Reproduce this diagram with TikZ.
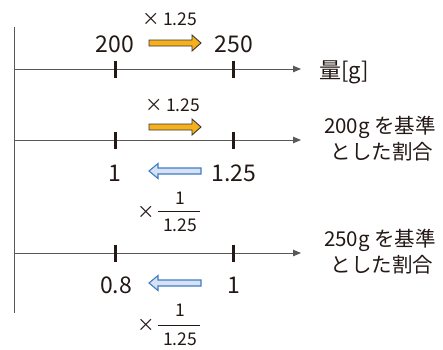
\documentclass[tikz,border=0pt]{standalone}
\usepackage{fontspec}
\setmainfont{Noto Sans CJK JP}
\usetikzlibrary{arrows.meta}
\definecolor{txt}{HTML}{231815}
\definecolor{axisc}{HTML}{595757}
\definecolor{orangefill}{HTML}{F5B01E}
\definecolor{orangeline}{HTML}{3A3534}
\definecolor{bluefill}{HTML}{D6E2F3}
\definecolor{blueline}{HTML}{3D7DC3}
\tikzset{
  axisline/.style={draw=axisc, line width=0.9pt, -{Triangle[length=8pt,width=6.5pt]}},
  tickmark/.style={draw=txt, line width=3pt},
  big/.style={text=txt, font=\fontsize{23}{25}\selectfont, inner sep=0pt},
  lab/.style={text=txt, font=\fontsize{20.5}{23}\selectfont, inner sep=0pt},
  small/.style={text=txt, font=\fontsize{17.5}{19}\selectfont, inner sep=0pt},
  fracline/.style={draw=txt, line width=0.8pt},
  orangearrow/.style={fill=orangefill, draw=orangeline, line width=0.9pt, line join=miter},
  bluearrow/.style={fill=bluefill, draw=blueline, line width=1.1pt, line join=miter},
}
\begin{document}
\begin{tikzpicture}[x=1pt,y=-1pt]
\useasboundingbox (0,0) rectangle (443,349);
% vertical line
\draw[draw=axisc, line width=1pt] (14,26.5) -- (14,313);
% axes
\coordinate (a1s) at (14,69); \coordinate (a1e) at (301,69);
\coordinate (a2s) at (14,140); \coordinate (a2e) at (301,140);
\coordinate (a3s) at (14,253); \coordinate (a3e) at (301,253);
\draw[axisline] (a1s) -- (a1e);
\draw[axisline] (a2s) -- (a2e);
\draw[axisline] (a3s) -- (a3e);
% ticks
\foreach \y in {69,140,253}{
  \draw[tickmark] (115,\y-8.5) -- (115,\y+8.5);
  \draw[tickmark] (233.5,\y-8.5) -- (233.5,\y+8.5);
}
% row 1
\node[small] (m1) at (170,19) {×\,1.25};
\node[big] (n200) at (115,44) {200};
\node[big] (n250) at (234,44) {250};
\draw[orangearrow] (149,40) -- (192,40) -- (192,35) -- (201,43) -- (192,51) -- (192,46) -- (149,46) -- cycle;
\node[text=txt, inner sep=0pt, font=\fontsize{22}{24}\selectfont, anchor=west] (unit) at (319,72) {量[g]};
% row 2
\node[small] (m2) at (173,105) {×\,1.25};
\draw[orangearrow] (149,124) -- (192,124) -- (192,119) -- (201,127) -- (192,135) -- (192,130) -- (149,130) -- cycle;
\node[big] (r1) at (115,173) {1};
\node[big] (r125) at (234,173) {1.25};
\draw[bluearrow] (201,168) -- (158,168) -- (158,163.5) -- (149,171) -- (158,178.5) -- (158,174) -- (201,174) -- cycle;
\node[small] (x2) at (146,212) {×};
\node[small] (num2) at (180,198) {1};
\draw[fracline] (158,211) -- (200,211);
\node[small] (den2) at (180,225) {1.25};
\node[lab] (l2a) at (380,127) {200g を基準};
\node[lab] (l2b) at (382,152) {とした割合};
% row 3
\node[big] (r08) at (116,285) {0.8};
\node[big] (r1b) at (234,285) {1};
\draw[bluearrow] (201,280) -- (158,280) -- (158,275.5) -- (149,283) -- (158,290.5) -- (158,286) -- (201,286) -- cycle;
\node[small] (x3) at (146,325) {×};
\node[small] (num3) at (180,310) {1};
\draw[fracline] (158,325) -- (200,325);
\node[small] (den3) at (180,339) {1.25};
\node[lab] (l3a) at (380,240) {250g を基準};
\node[lab] (l3b) at (382,265) {とした割合};
\end{tikzpicture}
\end{document}
